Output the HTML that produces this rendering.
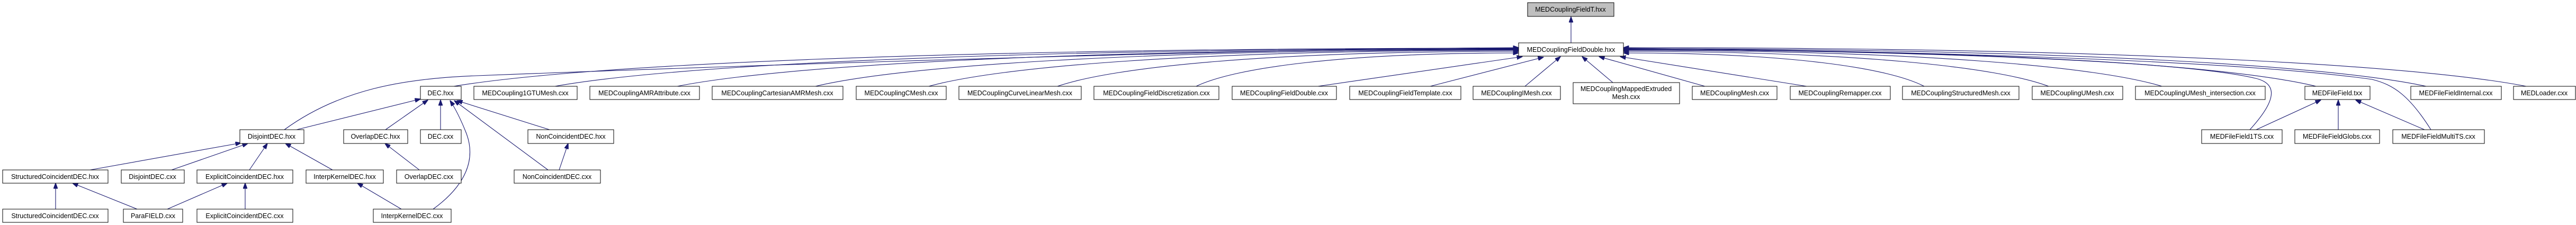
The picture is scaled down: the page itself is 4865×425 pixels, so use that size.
<!DOCTYPE html>
<html><head><meta charset="utf-8"><style>
html,body{margin:0;padding:0;background:#fff}
svg{display:block}
text{font-family:"Liberation Sans",sans-serif;font-size:12.5px;fill:#000;text-anchor:middle}
.e{fill:none;stroke:#191970;stroke-width:1.1}
.b{fill:#fff;stroke:#000;stroke-width:1}
.s{fill:none;stroke:#666;stroke-width:1}
</style></head><body>
<svg width="4865" height="425" viewBox="0 0 4865 425" xmlns="http://www.w3.org/2000/svg">
<defs><marker id="a" markerUnits="userSpaceOnUse" markerWidth="11" markerHeight="8" refX="10.5" refY="4" orient="auto"><path d="M0,0 L11,4 L0,8 z" fill="#191970" stroke="#191970"/></marker></defs>
<g class="e" marker-end="url(#a)">
<path d="M2967,81 L2967,32"/>
<path d="M537,245 C640,170 760,148 900,143 C1500,120 2400,92 2868,90"/>
<path d="M857,163 C1098,123 1762,91 2868,91"/>
<path d="M1048,163 C1266,124 1867,92 2868,92"/>
<path d="M1279,163 C1470,125 1994,93 2868,93"/>
<path d="M1540,163 C1699,125 2138,94 2868,94"/>
<path d="M1754,163 C1888,126 2255,95 2868,95"/>
<path d="M1997,163 C2102,127 2389,97 2868,97"/>
<path d="M2259,163 C2332,128 2533,100 2868,100"/>
<path d="M2489,163 L2875,107"/>
<path d="M2701,163 L2915,108"/>
<path d="M2880,163 L2947,107"/>
<path d="M3046,156 L2988,107"/>
<path d="M3220,163 L3020,107"/>
<path d="M3412,163 L3060,107"/>
<path d="M3634,163 C3566,128 3378,100 3066,100"/>
<path d="M3869,163 C3773,127 3508,97 3066,97"/>
<path d="M4083,163 C3961,126 3625,95 3066,95"/>
<path d="M4374,163 C4217,125 3785,94 3066,94"/>
<path d="M4582,163 C4400,124 3900,92 3066,92"/>
<path d="M4771,163 C4566,123 4004,90 3066,90"/>
<path d="M4249,245 C4290,200 4310,160 4260,148 C4100,110 3500,95 3066,93"/>
<path d="M4591,245 C4550,180 4520,160 4480,150 C4200,110 3500,95 3066,91"/>
<path d="M560,245 L794,187"/>
<path d="M728,245 L808,189"/>
<path d="M832,245 L832,189"/>
<path d="M818,395 C880,350 900,300 880,250 C870,225 860,205 850,190"/>
<path d="M1035,321 L858,190"/>
<path d="M1038,245 L863,190"/>
<path d="M170,321 L455,270"/>
<path d="M324,321 L468,271"/>
<path d="M471,321 L505,271"/>
<path d="M628,321 L539,271"/>
<path d="M792,321 L727,271"/>
<path d="M105,395 L105,346"/>
<path d="M259,395 L137,346"/>
<path d="M316,395 L429,346"/>
<path d="M463,395 L463,346"/>
<path d="M758,395 L675,346"/>
<path d="M1056,321 L1073,271"/>
<path d="M4261,245 L4383,189"/>
<path d="M4416,245 L4416,189"/>
<path d="M4579,245 L4449,189"/>
</g>
<g id="nodes">
<rect x="2885" y="5" width="163" height="26" fill="#bfbfbf" stroke="#000"/><text x="2966" y="22">MEDCouplingFieldT.hxx</text>
<rect class="b" x="2868" y="81" width="198" height="25"/><text x="2967" y="98">MEDCouplingFieldDouble.hxx</text>
<rect class="b" x="794" y="163" width="77" height="25"/><text x="832" y="180">DEC.hxx</text>
<rect class="b" x="895" y="163" width="195" height="25"/><text x="992" y="180">MEDCoupling1GTUMesh.cxx</text>
<rect class="b" x="1114" y="163" width="207" height="25"/><text x="1217" y="180">MEDCouplingAMRAttribute.cxx</text>
<rect class="b" x="1345" y="163" width="247" height="25"/><text x="1468" y="180">MEDCouplingCartesianAMRMesh.cxx</text>
<rect class="b" x="1617" y="163" width="170" height="25"/><text x="1702" y="180">MEDCouplingCMesh.cxx</text>
<rect class="b" x="1811" y="163" width="231" height="25"/><text x="1926" y="180">MEDCouplingCurveLinearMesh.cxx</text>
<rect class="b" x="2066" y="163" width="236" height="25"/><text x="2184" y="180">MEDCouplingFieldDiscretization.cxx</text>
<rect class="b" x="2327" y="163" width="197" height="25"/><text x="2425" y="180">MEDCouplingFieldDouble.cxx</text>
<rect class="b" x="2549" y="163" width="210" height="25"/><text x="2654" y="180">MEDCouplingFieldTemplate.cxx</text>
<rect class="b" x="2782" y="163" width="165" height="25"/><text x="2864" y="180">MEDCouplingIMesh.cxx</text>
<rect class="b" x="2971" y="156" width="201" height="40"/><text x="3071" y="172">MEDCouplingMappedExtruded</text><text x="3071" y="187">Mesh.cxx</text>
<rect class="b" x="3196" y="163" width="160" height="25"/><text x="3276" y="180">MEDCouplingMesh.cxx</text>
<rect class="b" x="3381" y="163" width="189" height="25"/><text x="3475" y="180">MEDCouplingRemapper.cxx</text>
<rect class="b" x="3593" y="163" width="220" height="25"/><text x="3703" y="180">MEDCouplingStructuredMesh.cxx</text>
<rect class="b" x="3838" y="163" width="171" height="25"/><text x="3923" y="180">MEDCouplingUMesh.cxx</text>
<rect class="b" x="4033" y="163" width="245" height="25"/><text x="4155" y="180">MEDCouplingUMesh_intersection.cxx</text>
<rect class="b" x="4353" y="163" width="123" height="25"/><text x="4414" y="180">MEDFileField.txx</text>
<rect class="b" x="4553" y="163" width="171" height="25"/><text x="4638" y="180">MEDFileFieldInternal.cxx</text>
<rect class="b" x="4747" y="163" width="117" height="25"/><text x="4805" y="180">MEDLoader.cxx</text>
<rect class="b" x="453" y="245" width="121" height="26"/><text x="513" y="262">DisjointDEC.hxx</text>
<rect class="b" x="649" y="245" width="121" height="26"/><text x="709" y="262">OverlapDEC.hxx</text>
<rect class="b" x="794" y="245" width="77" height="26"/><text x="832" y="262">DEC.cxx</text>
<rect class="b" x="997" y="245" width="162" height="26"/><text x="1078" y="262">NonCoincidentDEC.hxx</text>
<rect class="b" x="4158" y="245" width="152" height="26"/><text x="4234" y="262">MEDFileField1TS.cxx</text>
<rect class="b" x="4334" y="245" width="160" height="26"/><text x="4414" y="262">MEDFileFieldGlobs.cxx</text>
<rect class="b" x="4519" y="245" width="173" height="26"/><text x="4605" y="262">MEDFileFieldMultiTS.cxx</text>
<rect class="b" x="5" y="321" width="199" height="25"/><text x="104" y="338">StructuredCoincidentDEC.hxx</text>
<rect class="b" x="229" y="321" width="119" height="25"/><text x="288" y="338">DisjointDEC.cxx</text>
<rect class="b" x="372" y="321" width="181" height="25"/><text x="462" y="338">ExplicitCoincidentDEC.hxx</text>
<rect class="b" x="578" y="321" width="146" height="25"/><text x="651" y="338">InterpKernelDEC.hxx</text>
<rect class="b" x="749" y="321" width="122" height="25"/><text x="810" y="338">OverlapDEC.cxx</text>
<rect class="b" x="971" y="321" width="163" height="25"/><text x="1052" y="338">NonCoincidentDEC.cxx</text>
<rect class="b" x="5" y="395" width="199" height="25"/><text x="104" y="412">StructuredCoincidentDEC.cxx</text>
<rect class="b" x="233" y="395" width="112" height="25"/><text x="289" y="412">ParaFIELD.cxx</text>
<rect class="b" x="372" y="395" width="181" height="25"/><text x="462" y="412">ExplicitCoincidentDEC.cxx</text>
<rect class="b" x="705" y="395" width="147" height="25"/><text x="778" y="412">InterpKernelDEC.cxx</text>
</g>
</svg>
</body></html>
